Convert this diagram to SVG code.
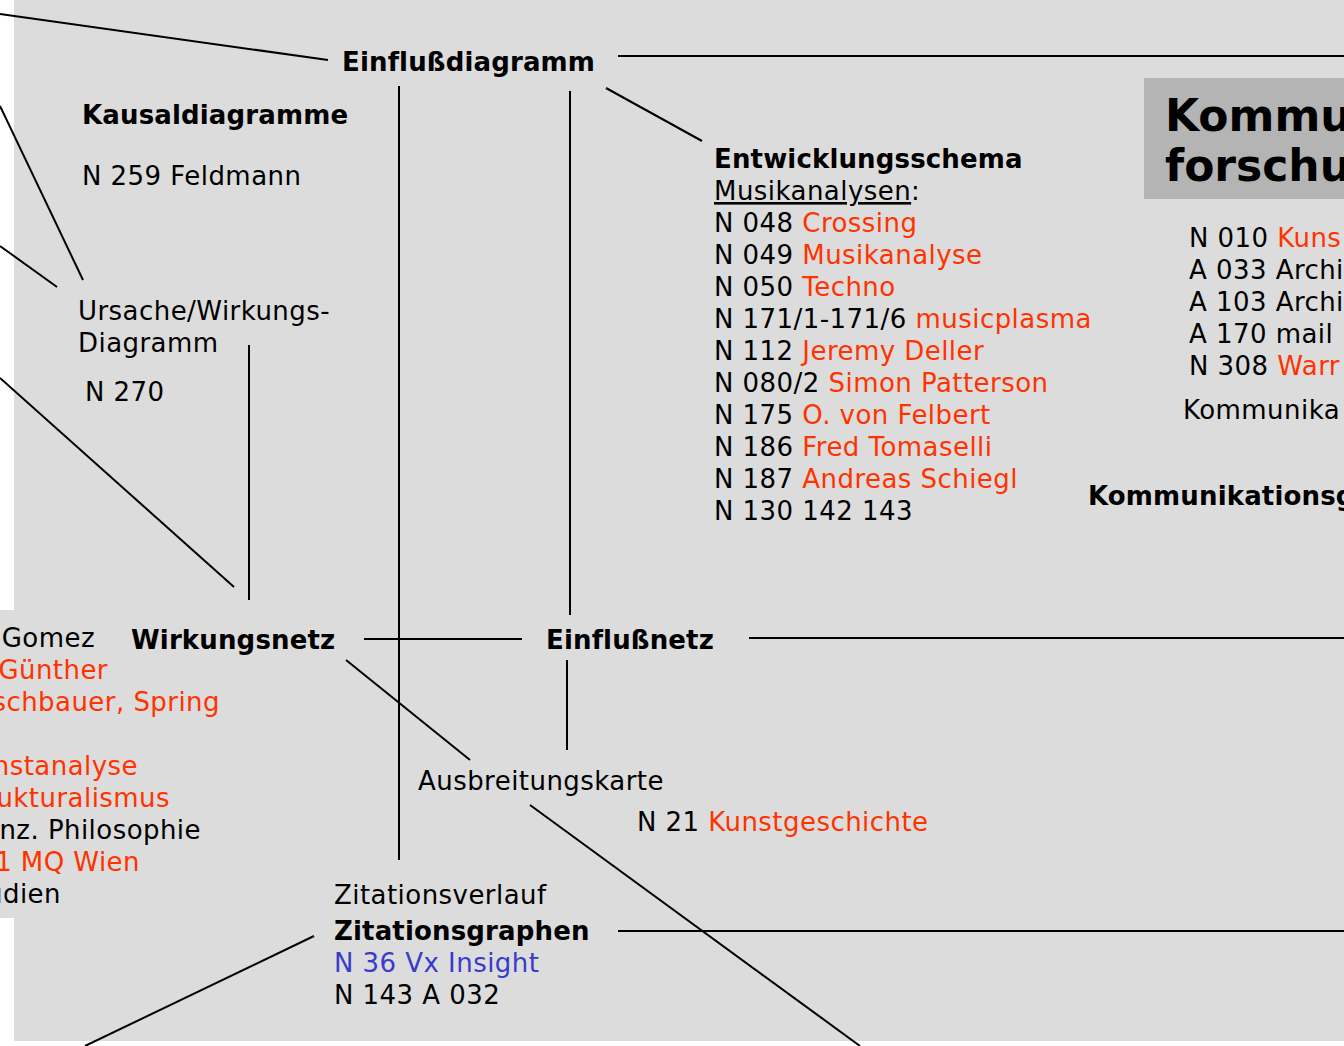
<svg xmlns="http://www.w3.org/2000/svg" width="1344" height="1046" viewBox="0 0 1344 1046">
<style>
text{font-family:"DejaVu Sans","Verdana",sans-serif;font-size:26px;fill:#000;letter-spacing:0.45px}
.b{font-weight:bold;letter-spacing:0.15px}
.r{fill:#ff3300}
.bl{fill:#3a3acc}
.big{font-size:44px;font-weight:bold;letter-spacing:0}
.e{text-anchor:end}
#connectors line{stroke:#000;stroke-width:2}
</style>
<rect x="0" y="0" width="1344" height="1046" fill="#ffffff"/>
<rect x="14" y="0" width="1330" height="1041" fill="#dcdcdc"/>
<rect x="0" y="610" width="14" height="308" fill="#dcdcdc"/>
<g id="connectors">
<line x1="0" y1="14" x2="328" y2="60"/>
<line x1="0" y1="106" x2="83" y2="280"/>
<line x1="0" y1="246" x2="57" y2="287"/>
<line x1="0" y1="378" x2="234" y2="587"/>
<line x1="249" y1="345" x2="249" y2="600"/>
<line x1="399" y1="86" x2="399" y2="860"/>
<line x1="570" y1="91" x2="570" y2="615"/>
<line x1="606" y1="88" x2="702" y2="141"/>
<line x1="618" y1="56" x2="1344" y2="56"/>
<line x1="364" y1="639" x2="522" y2="639"/>
<line x1="749" y1="638" x2="1344" y2="638"/>
<line x1="567" y1="660" x2="567" y2="750"/>
<line x1="346" y1="660" x2="470" y2="760"/>
<line x1="530" y1="805" x2="860" y2="1046"/>
<line x1="618" y1="931" x2="1344" y2="931"/>
<line x1="314" y1="936" x2="85" y2="1046"/>
</g>
<g id="einflussdiagramm"><text class="b" x="342" y="71">Einflußdiagramm</text></g>
<g id="kausaldiagramme"><text class="b" x="82" y="124">Kausaldiagramme</text><text x="82" y="185">N 259 Feldmann</text></g>
<g id="ursache"><text x="78" y="320">Ursache/Wirkungs-</text><text x="78" y="352">Diagramm</text><text x="85" y="401">N 270</text></g>
<g id="entwicklungsschema">
<text class="b" x="714" y="168">Entwicklungsschema</text>
<text x="714" y="200"><tspan text-decoration="underline">Musikanalysen</tspan>:</text>
<text x="714" y="232">N 048 <tspan class="r">Crossing</tspan></text>
<text x="714" y="264">N 049 <tspan class="r">Musikanalyse</tspan></text>
<text x="714" y="296">N 050 <tspan class="r">Techno</tspan></text>
<text x="714" y="328">N 171/1-171/6 <tspan class="r">musicplasma</tspan></text>
<text x="714" y="360">N 112 <tspan class="r">Jeremy Deller</tspan></text>
<text x="714" y="392">N 080/2 <tspan class="r">Simon Patterson</tspan></text>
<text x="714" y="424">N 175 <tspan class="r">O. von Felbert</tspan></text>
<text x="714" y="456">N 186 <tspan class="r">Fred Tomaselli</tspan></text>
<text x="714" y="488">N 187 <tspan class="r">Andreas Schiegl</tspan></text>
<text x="714" y="520">N 130 142 143</text>
</g>
<g id="kommunikationsforschung">
<rect x="1144" y="78" width="200" height="121" fill="#b4b4b4"/>
<text class="big" x="1165" y="131">Kommu</text>
<text class="big" x="1165" y="181">forschu</text>
<text x="1189" y="247">N 010 <tspan class="r">Kuns</tspan></text>
<text x="1189" y="279">A 033 Archi</text>
<text x="1189" y="311">A 103 Archi</text>
<text x="1189" y="343">A 170 mail</text>
<text x="1189" y="375">N 308 <tspan class="r">Warr</tspan></text>
<text x="1183" y="419">Kommunika</text>
</g>
<g id="kommunikationsg"><text class="b" x="1088" y="505">Kommunikationsg</text></g>
<g id="wirkungsnetz"><text class="b" x="131" y="649">Wirkungsnetz</text></g>
<g id="leftlist">
<text class="e" x="95" y="647">Gomez</text>
<text class="e r" x="108" y="679">Günther</text>
<text class="e r" x="220" y="711">schbauer, Spring</text>
<text class="e r" x="138" y="775">nstanalyse</text>
<text class="e r" x="170" y="807">ukturalismus</text>
<text class="e" x="201" y="839">nz. Philosophie</text>
<text class="e r" x="140" y="871">1 MQ Wien</text>
<text class="e" x="61" y="903">udien</text>
</g>
<g id="einflussnetz"><text class="b" x="546" y="649">Einflußnetz</text></g>
<g id="ausbreitungskarte"><text x="418" y="790">Ausbreitungskarte</text><text x="637" y="831">N 21 <tspan class="r">Kunstgeschichte</tspan></text></g>
<g id="zitationsgraphen">
<text x="334" y="904">Zitationsverlauf</text>
<text class="b" x="334" y="940">Zitationsgraphen</text>
<text class="bl" x="334" y="972">N 36 Vx Insight</text>
<text x="334" y="1004">N 143 A 032</text>
</g>
</svg>
